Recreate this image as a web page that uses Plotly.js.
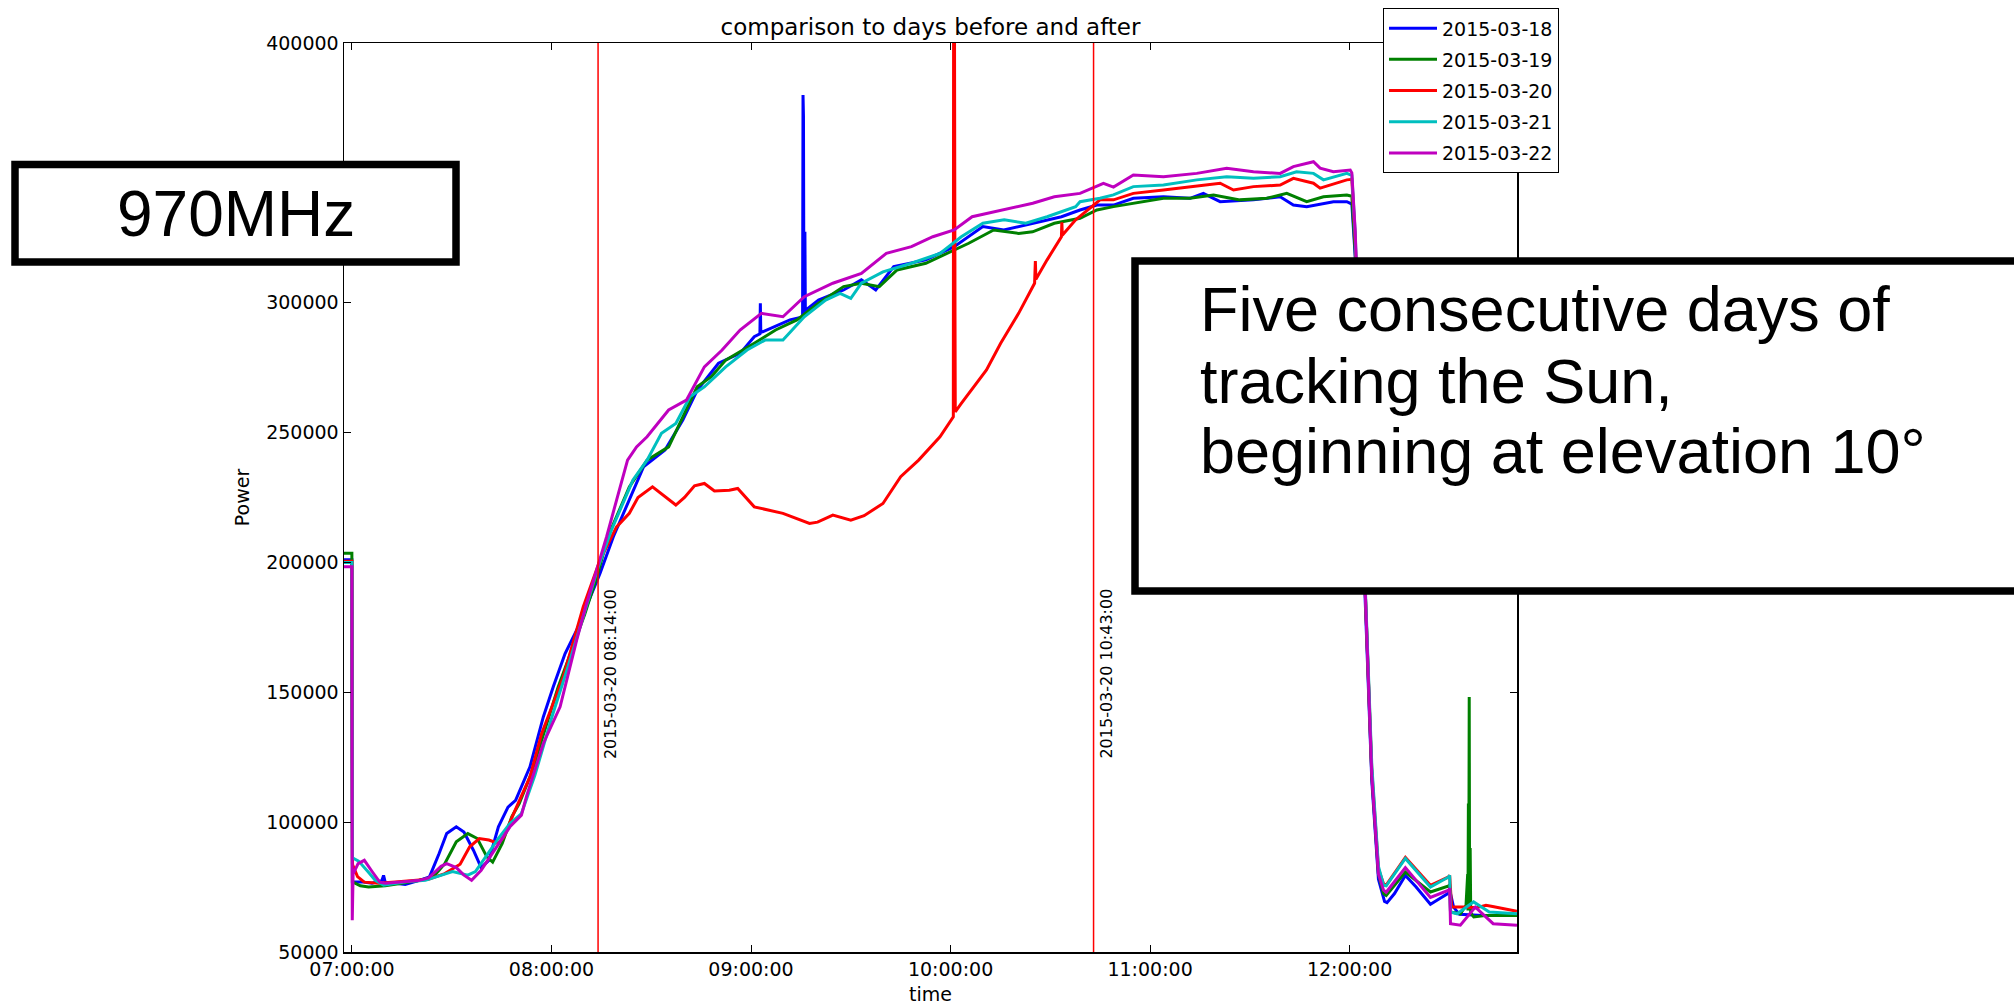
<!DOCTYPE html>
<html>
<head>
<meta charset="utf-8">
<script src="https://cdn.plot.ly/plotly-3.0.1.min.js"></script>
<style>html,body{margin:0;padding:0;background:#fff;}#chart{width:2014px;height:1007px;}</style>
</head>
<body>
<div id="chart"></div>
<script>
// ---------------- data (time of day, power) ----------------
const seriesNames = ["2015-03-18", "2015-03-19", "2015-03-20", "2015-03-21", "2015-03-22"];
const markerTimes = ["08:14:00", "10:43:00"];
const markerLabels = ["2015-03-20 08:14:00", "2015-03-20 10:43:00"];
const xTickLabels = ["07:00:00", "08:00:00", "09:00:00", "10:00:00", "11:00:00", "12:00:00"];
const yTickValues = [50000, 100000, 150000, 200000, 250000, 300000, 350000, 400000];
// 350000 is hidden behind the "970MHz" box in the reference
const yTickLabels = ["50000", "100000", "150000", "200000", "250000", "300000", "", "400000"];

const times18 = ["06:57:36","06:59:58","07:00:08","07:03:00","07:06:00","07:09:00","07:09:30","07:10:00","07:13:00","07:16:00","07:20:00","07:23:18","07:26:12","07:28:29","07:31:22","07:33:40","07:36:31","07:38:51","07:41:09","07:44:02","07:46:55","07:49:12","07:53:31","07:57:32","08:00:32","08:04:05","08:07:34","08:11:35","08:14:35","08:18:36","08:21:14","08:27:40","08:34:08","08:39:29","08:43:48","08:50:13","08:56:42","09:00:58","09:02:40","09:02:48","09:02:56","09:11:42","09:15:30","09:15:38","09:15:46","09:15:54","09:16:02","09:16:12","09:16:20","09:20:17","09:27:50","09:33:11","09:37:30","09:42:54","09:52:34","10:01:05","10:09:43","10:16:00","10:24:40","10:33:22","10:38:56","10:44:00","10:49:00","10:54:58","11:04:01","11:12:00","11:16:01","11:21:04","11:31:05","11:39:07","11:43:05","11:47:06","11:55:08","11:59:10","12:00:40","12:01:40","12:02:30","12:03:30","12:04:40","12:06:40","12:08:40","12:10:30","12:11:15","12:13:30","12:16:46","12:20:00","12:24:18","12:27:00","12:29:46","12:30:10","12:31:16","12:33:00","12:40:00","12:50:20"];
const power18 = [201000,201000,77000,77000,76500,77500,79500,76800,76500,76000,77500,78900,87900,95600,98200,96200,89200,82500,85300,98200,105800,108400,121300,140500,152100,164900,173900,186700,195800,209900,217600,236800,243300,254800,266300,276700,280500,286900,288000,299800,288500,293400,294500,380000,372000,300000,296000,327300,297000,301000,304900,308800,304900,313900,316500,321600,329300,328000,330600,333100,335700,337600,337600,340200,340800,340200,342100,338900,339600,340800,337600,337000,338900,338900,338000,318000,288000,238000,186000,116000,78000,69500,69000,72500,79500,75000,68400,70500,72700,73500,67300,64500,64100,64100];

const times19 = ["06:57:36","06:59:58","07:00:08","07:02:30","07:05:00","07:10:00","07:15:00","07:20:00","07:24:27","07:27:54","07:31:22","07:34:50","07:37:41","07:40:34","07:42:18","07:45:11","07:48:04","07:50:20","07:54:00","07:58:00","08:02:00","08:06:00","08:10:00","08:14:00","08:16:58","08:23:24","08:28:44","08:35:13","08:39:29","08:43:48","08:48:04","08:52:23","09:00:58","09:07:23","09:13:48","09:20:17","09:27:50","09:33:11","09:38:35","09:43:55","09:52:34","09:58:59","10:05:28","10:12:58","10:20:28","10:24:40","10:31:12","10:38:56","10:44:00","10:49:00","10:54:58","11:04:01","11:12:00","11:19:05","11:27:00","11:35:06","11:41:06","11:47:06","11:52:08","11:59:10","12:00:40","12:01:40","12:02:30","12:03:30","12:04:40","12:06:40","12:08:40","12:10:12","12:11:00","12:16:46","12:24:18","12:29:46","12:30:05","12:30:20","12:33:18","12:35:00","12:35:30","12:35:35","12:35:43","12:35:50","12:35:58","12:36:05","12:36:15","12:36:25","12:37:20","12:41:20","12:50:20"];
const power19 = [203500,203500,77000,75500,75000,75500,76500,77500,78900,84000,92400,95600,93700,86600,84600,91800,102100,107200,119000,136000,152000,166000,180000,196000,209900,229100,239400,244500,256100,267600,271500,277900,284400,289500,293400,299800,306200,307500,306200,312600,315200,319000,322900,328000,326700,327300,330600,332500,335700,337000,338300,340200,340200,341500,339600,340200,342100,338900,340800,341500,341000,320000,292000,242000,190000,118000,80000,72500,71800,80800,73100,75400,76000,65400,64700,68000,80000,66000,107200,68000,148200,66000,90000,65000,63500,64100,64100];

const times20 = ["06:57:36","06:59:58","07:00:08","07:01:40","07:03:42","07:08:00","07:13:00","07:18:00","07:23:00","07:27:54","07:32:31","07:35:24","07:38:17","07:41:09","07:44:02","07:45:43","07:48:36","07:53:31","07:57:00","08:03:32","08:09:32","08:14:35","08:19:34","08:23:24","08:26:00","08:30:22","08:34:00","08:37:23","08:40:00","08:43:00","08:45:58","08:49:00","08:53:28","08:56:00","09:00:58","09:09:36","09:17:35","09:20:00","09:24:36","09:30:00","09:34:00","09:39:40","09:45:00","09:50:24","09:56:49","10:00:50","10:00:55","10:01:10","10:01:20","10:01:25","10:03:14","10:10:48","10:15:04","10:20:28","10:25:16","10:25:30","10:25:40","10:29:02","10:33:20","10:33:28","10:33:36","10:37:37","10:42:29","10:44:56","10:49:00","10:54:58","11:04:01","11:12:00","11:16:01","11:21:04","11:25:05","11:31:05","11:39:07","11:43:05","11:49:08","11:51:07","11:59:10","12:00:40","12:01:40","12:02:30","12:03:30","12:04:40","12:06:40","12:08:40","12:10:12","12:11:00","12:16:46","12:24:18","12:29:46","12:30:05","12:30:40","12:35:00","12:38:00","12:41:00","12:43:00","12:50:20"];
const power20 = [200500,200500,83800,79000,76900,76500,77000,77500,78000,80200,83800,90500,93700,93100,91800,94400,103300,117400,134000,155900,182900,200900,213700,218900,225000,229100,225500,222100,225000,229500,230400,227500,227800,228500,221400,218900,215000,215500,218200,216300,218000,222700,233000,239400,248400,256100,420000,420000,294600,258000,261200,274100,284400,295900,307500,316000,309000,316500,325400,331000,326000,331900,337000,339600,339600,342100,343400,344700,345300,346000,343400,344700,345300,347900,346000,344100,347300,347500,325000,295000,245000,190000,120000,82000,76300,75800,86400,75700,78900,79500,67300,67300,67000,68000,67500,65700];

const times21 = ["06:57:36","06:59:58","07:00:08","07:02:00","07:04:54","07:07:00","07:09:31","07:16:24","07:22:05","07:26:47","07:30:14","07:34:50","07:37:07","07:40:34","07:44:02","07:47:30","07:50:57","07:55:00","08:00:00","08:05:00","08:10:00","08:14:00","08:18:00","08:24:29","08:28:44","08:33:04","08:37:23","08:41:38","08:45:58","08:52:23","08:58:48","09:04:12","09:09:36","09:16:01","09:22:26","09:26:46","09:30:00","09:33:11","09:39:40","09:48:14","09:56:49","10:03:14","10:09:43","10:16:08","10:22:37","10:29:02","10:37:37","10:38:56","10:44:56","10:48:58","10:54:58","11:04:01","11:14:02","11:23:02","11:31:05","11:39:07","11:44:02","11:49:08","11:52:08","11:59:10","12:00:40","12:01:40","12:02:30","12:03:30","12:04:40","12:06:40","12:08:40","12:10:12","12:11:00","12:16:46","12:24:18","12:29:46","12:30:05","12:30:20","12:32:20","12:37:17","12:42:00","12:50:20"];
const power21 = [200000,200000,86300,85000,80800,77600,75700,77000,77600,79600,81000,79600,81000,87300,93700,99500,103300,118000,140000,160000,181000,198000,212400,231700,239400,249700,253500,263800,267600,275300,281800,285600,285600,294600,301000,303600,301700,307500,311900,315200,319000,325400,330600,331900,330600,333100,337000,338900,340200,341500,344700,345300,347300,348500,347900,348500,350400,349800,347300,349800,349000,327000,297000,247000,192000,122000,83000,75700,75500,86000,75000,78900,79500,65400,64700,69300,65400,64700];

const times22 = ["06:57:36","06:59:58","07:00:05","07:00:20","07:01:50","07:03:43","07:06:03","07:08:22","07:10:00","07:15:00","07:20:00","07:23:00","07:26:47","07:28:29","07:31:22","07:33:40","07:35:58","07:38:51","07:41:09","07:44:02","07:47:30","07:50:57","07:52:30","07:57:32","08:02:35","08:07:34","08:10:34","08:13:34","08:16:34","08:19:34","08:22:52","08:25:34","08:28:44","08:35:13","08:40:34","08:45:58","08:51:18","08:56:42","09:03:07","09:09:36","09:16:01","09:24:36","09:33:11","09:40:41","09:48:14","09:54:40","10:01:05","10:06:29","10:16:08","10:24:43","10:31:12","10:38:56","10:45:58","10:49:00","10:54:58","11:04:01","11:14:02","11:23:02","11:31:05","11:39:07","11:43:05","11:49:08","11:51:07","11:55:08","12:00:11","12:00:40","12:01:40","12:02:30","12:03:30","12:04:40","12:06:40","12:08:40","12:10:12","12:11:00","12:16:46","12:24:18","12:29:46","12:30:05","12:30:20","12:33:18","12:37:48","12:43:10","12:50:20"];
const power22 = [198300,198300,62200,80000,84000,85300,81000,76900,76500,77000,77500,78500,83000,84000,82500,79600,77600,81500,86000,91200,98200,102700,110000,130300,144400,170100,184200,197000,209900,224000,239400,244500,248400,258700,262500,275300,281800,289500,295900,294600,302300,307500,311300,319000,321600,325400,328000,333100,335700,338300,340800,342100,346000,344500,349200,348500,349800,351800,350400,349800,352400,354300,351800,350400,351100,350000,328000,298000,246000,190000,118000,80000,73800,73000,82500,71000,73800,74500,60900,60300,67300,60900,60300];

// ---------------- chart ----------------
const DAY = "2015-03-20 ";
const toDate = arr => arr.map(s => DAY + s);
const colors = ["#0000ff", "#008000", "#ff0000", "#00bfbf", "#bf00bf"];
const allTimes = [times18, times19, times20, times21, times22];
const allPower = [power18, power19, power20, power21, power22];

const traces = seriesNames.map((name, i) => ({
  type: "scatter", mode: "lines", name: name, legendgroup: name,
  x: toDate(allTimes[i]), y: allPower[i],
  line: { color: colors[i], width: 3 }
}));

const FONT = "DejaVu Sans";
const L = 344, R = 1517, T = 43, B = 952;
const px = x => (x - L) / (R - L);
const py = y => (B - y) / (B - T);

const shapes = [];
markerTimes.forEach(t => shapes.push({
  type: "line", xref: "x", yref: "paper", x0: DAY + t, x1: DAY + t, y0: 0, y1: 1,
  line: { color: "#ff0000", width: 1.5 }, layer: "above"
}));
shapes.push({ type: "rect", xref: "paper", yref: "paper", x0: px(15), x1: px(456), y0: py(262), y1: py(164.5),
  line: { color: "#000", width: 7.5 }, fillcolor: "#fff", layer: "above" });
shapes.push({ type: "rect", xref: "paper", yref: "paper", x0: px(1135), x1: px(2040), y0: py(591), y1: py(261),
  line: { color: "#000", width: 7.5 }, fillcolor: "#fff", layer: "above" });

const boxFont = { family: "Liberation Sans", size: 64, color: "#000" };
const noteLines = ["Five consecutive days of", "tracking the Sun,", "beginning at elevation 10°"];
const noteY = [309, 380.7, 451.4];
const annotations = [
  { xref: "paper", yref: "paper", x: px(236), y: py(213.7), text: "970MHz", showarrow: false,
    xanchor: "center", yanchor: "middle", font: boxFont }
];
noteLines.forEach((txt, i) => annotations.push({
  xref: "paper", yref: "paper", x: px(1198), y: py(noteY[i]), text: txt, showarrow: false,
  xanchor: "left", yanchor: "middle", font: { family: "Liberation Sans", size: 63, color: "#000" }
}));
markerTimes.forEach((t, i) => annotations.push({
  xref: "x", yref: "paper", x: DAY + t, xshift: 13, y: py(674), text: markerLabels[i], showarrow: false,
  textangle: -90, xanchor: "center", yanchor: "middle", font: { family: FONT, size: 16, color: "#000" }
}));

const axisCommon = {
  showline: true, linecolor: "#000", linewidth: 1.5, mirror: "ticks",
  ticks: "inside", ticklen: 7, tickwidth: 1, tickcolor: "#000",
  showgrid: false, zeroline: false,
  tickfont: { family: FONT, size: 19, color: "#000" }
};

const layout = {
  width: 2014, height: 1007,
  margin: { l: L, r: 2014 - R, t: T, b: 1007 - B, pad: 0, autoexpand: false },
  paper_bgcolor: "#fff", plot_bgcolor: "#fff",
  title: { text: "comparison to days before and after", font: { family: FONT, size: 23, color: "#000" },
    xref: "paper", x: 0.5, xanchor: "center", yref: "container", y: 1 - 27 / 1007, yanchor: "middle" },
  xaxis: Object.assign({}, axisCommon, {
    type: "date", range: [DAY + "06:57:36", DAY + "12:50:20"],
    tickmode: "array", tickvals: xTickLabels.map(s => DAY + s), ticktext: xTickLabels,
    title: { text: "time", font: { family: FONT, size: 19, color: "#000" }, standoff: 8 },
    automargin: false
  }),
  yaxis: Object.assign({}, axisCommon, {
    range: [50000, 400000], tickmode: "array", tickvals: yTickValues, ticktext: yTickLabels,
    title: { text: "Power", font: { family: FONT, size: 19, color: "#000" }, standoff: 11 },
    automargin: false
  }),
  showlegend: true,
  legend: {
    x: px(1383), y: py(8.3), xanchor: "left", yanchor: "top",
    bgcolor: "#fff", bordercolor: "#000", borderwidth: 1,
    font: { family: FONT, size: 19, color: "#000" }, tracegroupgap: 3.5, itemwidth: 48
  },
  shapes: shapes,
  annotations: annotations
};

Plotly.newPlot("chart", traces, layout, { staticPlot: true, displayModeBar: false });
</script>
</body>
</html>
